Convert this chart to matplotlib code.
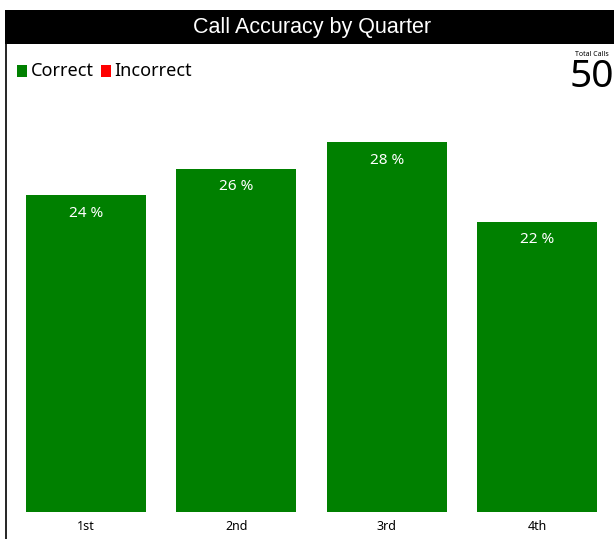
import numpy as np
import matplotlib.pyplot as plt
from matplotlib.patches import Rectangle
from matplotlib.lines import Line2D

quarters = ["1st", "2nd", "3rd", "4th"]
correct_pct = [24, 26, 28, 22]
total_calls = 50

W, H = 614, 539
fig = plt.figure(figsize=(W / 100, H / 100), dpi=100)
fig.patch.set_facecolor("white")


def fx(px):
    return px / W


def fy(py):
    return 1 - py / H


# title bar and left border
fig.patches.append(Rectangle((fx(5), fy(44)), fx(614) - fx(5), fy(10) - fy(44),
                             transform=fig.transFigure, facecolor="black", edgecolor="none"))
fig.lines.append(Line2D([fx(5.5), fx(5.5)], [fy(44), 0], transform=fig.transFigure,
                        color="black", linewidth=1.2))
fig.text(fx(312), fy(27), "Call Accuracy by Quarter", color="white", fontsize=15.5,
         family="Liberation Sans", ha="center", va="center")

# legend
fig.patches.append(Rectangle((fx(17), fy(77)), fx(10), fy(65) - fy(77),
                             transform=fig.transFigure, facecolor="#008000", edgecolor="none"))
fig.text(fx(31), fy(71), "Correct", fontsize=13, family="Noto Sans", va="center")
fig.patches.append(Rectangle((fx(101), fy(77)), fx(10), fy(65) - fy(77),
                             transform=fig.transFigure, facecolor="#ff0000", edgecolor="none"))
fig.text(fx(114), fy(71), "Incorrect", fontsize=13, family="Noto Sans", va="center")

# total calls
fig.text(fx(592), fy(55), "Total Calls", fontsize=5, family="Noto Sans", ha="center", va="center")
fig.text(fx(592), fy(77), str(total_calls), fontsize=28, family="Noto Sans",
         ha="center", va="center")

# bars
ax = fig.add_axes([fx(11), fy(512), fx(612) - fx(11), fy(116) - fy(512)])
x = np.arange(len(quarters))
ax.bar(x, correct_pct, width=0.8, color="#008000")
ax.set_xlim(-0.5, len(quarters) - 0.5)
ax.set_ylim(0, 30)
for xi, v in zip(x, correct_pct):
    ax.annotate(f"{v} %", (xi, v), xytext=(0, -18), textcoords="offset pixels",
                ha="center", va="center", color="white", fontsize=11, family="Noto Sans")
ax.set_xticks(x)
ax.set_xticklabels(quarters, fontsize=9, family="Noto Sans", fontweight="bold")
ax.tick_params(axis="x", length=0, pad=6)
ax.set_yticks([])
for s in ax.spines.values():
    s.set_visible(False)

fig.savefig("out.png", dpi=100)
